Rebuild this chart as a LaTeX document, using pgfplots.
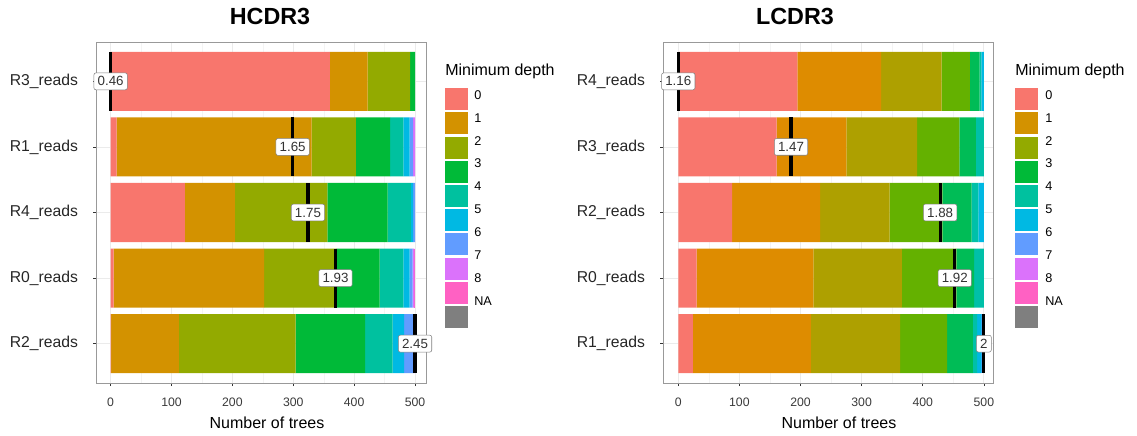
\documentclass[border=0pt]{standalone}
\usepackage{fontspec}
\setmainfont{Liberation Sans}
\usepackage{pgfplots}
\pgfplotsset{compat=1.18}
\usepackage{pgfplotstable}

% ggplot2 hue palette (9 levels) used by the HCDR3 panel and both legends
\definecolor{h0}{HTML}{F8766D}
\definecolor{h1}{HTML}{D39200}
\definecolor{h2}{HTML}{93AA00}
\definecolor{h3}{HTML}{00BA38}
\definecolor{h4}{HTML}{00C19F}
\definecolor{h5}{HTML}{00B9E3}
\definecolor{h6}{HTML}{619CFF}
\definecolor{h7}{HTML}{DB72FB}
\definecolor{h8}{HTML}{FF61C3}
\definecolor{hna}{HTML}{7F7F7F}
% palette of the LCDR3 panel
\definecolor{l0}{HTML}{F8766D}
\definecolor{l1}{HTML}{DE8C00}
\definecolor{l2}{HTML}{AEA000}
\definecolor{l3}{HTML}{64B100}
\definecolor{l4}{HTML}{00BC56}
\definecolor{l5}{HTML}{00C0A8}
\definecolor{l6}{HTML}{00B8E2}
\definecolor{l7}{HTML}{4FA4FF}
% frame, grid and text greys
\definecolor{bordergray}{HTML}{999999}
\definecolor{gridmajor}{HTML}{EBEBEB}
\definecolor{gridminor}{HTML}{F4F4F4}
\definecolor{tickgray}{HTML}{333333}
\definecolor{ticktext}{HTML}{3A3A3A}
\definecolor{labelgray}{HTML}{333333}

% number of trees per minimum depth, one row per sample
\pgfplotstableread{
pos d0  d1  d2  d3  d4 d5 d6 d7 d8
1   360 62  70  8   0  0  0  0  0
2   10  320 73  56  22 10 6  3  0
3   122 82  152 99  38 4  3  0  0
4   5   247 119 71  39 10 5  3  1
5   1   111 192 114 45 19 16 2  0
}\hcdrcounts
\pgfplotstableread{
pos mean
1   0.46
2   1.65
3   1.75
4   1.93
5   2.45
}\hcdrmeans
\pgfplotstableread{
pos d0  d1  d2  d3 d4 d5 d6 d7
1   195 137 99  46 16 3  4  0
2   161 114 116 69 27 13 0  0
3   88  144 114 86 48 11 9  0
4   30  191 145 89 29 16 0  0
5   24  193 146 77 42 7  7  4
}\lcdrcounts
\pgfplotstableread{
pos mean
1   1.16
2   1.47
3   1.88
4   1.92
5   2
}\lcdrmeans

\pgfplotsset{
  panelbox/.style={
    scale only axis, width=247.5pt, height=255.75pt,
    ymin=0.4, ymax=5.6, y dir=reverse,
  },
  depthpanel/.style={
    panelbox,
    xbar stacked, bar width=0.9,
    xtick={0,100,...,500}, minor xtick={50,150,...,450},
    ytick={1,...,5},
    xtick pos=bottom, ytick pos=left,
    tick align=outside, major tick length=2.25pt, minor tick length=0pt,
    tick style={color=tickgray, line width=0.5pt},
    xmajorgrids, xminorgrids, ymajorgrids,
    major grid style={color=gridmajor, line width=0.6pt},
    minor grid style={color=gridminor, line width=0.3pt},
    axis line style={color=bordergray, line width=0.5pt},
    /pgf/number format/assume math mode=true,
    xticklabel style={font=\fontsize{9.2}{11}\selectfont, text=ticktext,
      inner sep=0pt, anchor=north, yshift=-8.5pt},
    yticklabel style={font=\fontsize{11.8}{14}\selectfont, text=black!85,
      inner sep=0pt, anchor=east, xshift=-11pt},
  },
  meanpanel/.style={
    panelbox, hide axis, clip=false,
    nodes near coords, point meta=explicit symbolic,
    every node near coord/.append style={anchor=center, fill=white,
      draw=gray, line width=0.4pt, rounded corners=1.5pt, inner sep=2.8pt,
      text=labelgray, font=\fontsize{10}{12}\selectfont},
  },
  meanline/.style={only marks, mark=|, mark size=22.1pt,
    mark options={line width=2.4pt, draw=black}},
}

\begin{document}
\begin{tikzpicture}
\useasboundingbox (0,0) rectangle (852.75pt,326.25pt);

% ---------------- HCDR3 ----------------
\begin{axis}[depthpanel, at={(72pt,39pt)}, anchor=south west,
    xmin=-24, xmax=518,
    yticklabels={R3\_reads,R1\_reads,R4\_reads,R0\_reads,R2\_reads}]
  \addplot[fill=h0, draw=none] table[x=d0, y=pos] {\hcdrcounts};
  \addplot[fill=h1, draw=none] table[x=d1, y=pos] {\hcdrcounts};
  \addplot[fill=h2, draw=none] table[x=d2, y=pos] {\hcdrcounts};
  \addplot[fill=h3, draw=none] table[x=d3, y=pos] {\hcdrcounts};
  \addplot[fill=h4, draw=none] table[x=d4, y=pos] {\hcdrcounts};
  \addplot[fill=h5, draw=none] table[x=d5, y=pos] {\hcdrcounts};
  \addplot[fill=h6, draw=none] table[x=d6, y=pos] {\hcdrcounts};
  \addplot[fill=h7, draw=none] table[x=d7, y=pos] {\hcdrcounts};
  \addplot[fill=h8, draw=none] table[x=d8, y=pos] {\hcdrcounts};
\end{axis}
% mean minimum depth, rescaled onto the 0--500 range
\begin{axis}[meanpanel, at={(72pt,39pt)}, anchor=south west,
    xmin=-24, xmax=518]
  \addplot[meanline] table[x expr={(\thisrow{mean}-0.46)/(2.45-0.46)*500},
    y=pos, meta=mean] {\hcdrmeans};
\end{axis}

% ---------------- LCDR3 ----------------
\begin{axis}[depthpanel, at={(497.25pt,39pt)}, anchor=south west,
    xmin=-25, xmax=515,
    yticklabels={R4\_reads,R3\_reads,R2\_reads,R0\_reads,R1\_reads}]
  \addplot[fill=l0, draw=none] table[x=d0, y=pos] {\lcdrcounts};
  \addplot[fill=l1, draw=none] table[x=d1, y=pos] {\lcdrcounts};
  \addplot[fill=l2, draw=none] table[x=d2, y=pos] {\lcdrcounts};
  \addplot[fill=l3, draw=none] table[x=d3, y=pos] {\lcdrcounts};
  \addplot[fill=l4, draw=none] table[x=d4, y=pos] {\lcdrcounts};
  \addplot[fill=l5, draw=none] table[x=d5, y=pos] {\lcdrcounts};
  \addplot[fill=l6, draw=none] table[x=d6, y=pos] {\lcdrcounts};
  \addplot[fill=l7, draw=none] table[x=d7, y=pos] {\lcdrcounts};
\end{axis}
\begin{axis}[meanpanel, at={(497.25pt,39pt)}, anchor=south west,
    xmin=-25, xmax=515]
  \addplot[meanline] table[x expr={(\thisrow{mean}-1.16)/(2-1.16)*500},
    y=pos, meta=mean] {\lcdrmeans};
\end{axis}

% titles, axis labels and legends (pixel grid, origin top left)
\begin{scope}[x=0.75pt, y=-0.75pt, yshift=326.25pt]
  \node[font=\bfseries\fontsize{17.5}{20}\selectfont] at (270,16) {HCDR3};
  \node[font=\bfseries\fontsize{17.5}{20}\selectfont] at (795,16) {LCDR3};
  \node[font=\fontsize{12}{14}\selectfont] at (267,423) {Number of trees};
  \node[font=\fontsize{12}{14}\selectfont] at (839,423) {Number of trees};

  \foreach \lx/\tx in {445/474, 1015/1045} {
    \node[anchor=west, inner sep=0pt, font=\fontsize{12}{14}\selectfont]
      at (\lx,71) {Minimum depth};
    \foreach \c [count=\i from 0] in {h0,h1,h2,h3,h4,h5,h6,h7,h8,hna} {
      \fill[\c] (\lx,{88.3+24.2*\i}) rectangle ++(22.5,22);
    }
    \foreach \t [count=\i from 0] in {0,1,2,3,4,5,6,7,8,NA} {
      \node[anchor=west, inner sep=0pt, font=\fontsize{9.5}{11}\selectfont]
        at (\tx,{95+22.85*\i}) {\t};
    }
  }
\end{scope}
\end{tikzpicture}
\end{document}
